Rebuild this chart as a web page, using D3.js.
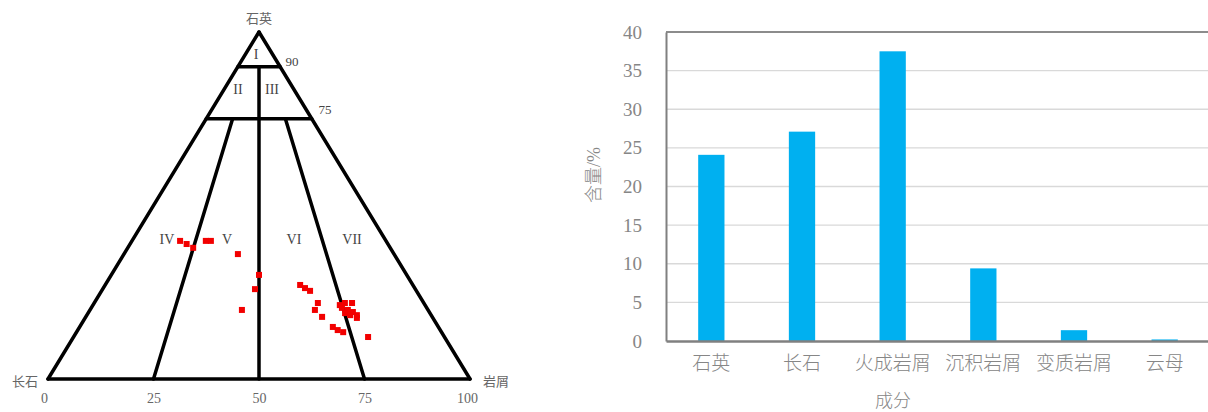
<!DOCTYPE html>
<html>
  <head>
    <meta charset="utf-8">
    <style>
      body { margin: 0; background: #fff; }
      text { font-family: "Liberation Serif", "Noto Sans CJK SC", serif; }
    </style>
  </head>
  <body>
    <script src="https://d3js.org/d3.v7.min.js"></script>
    <script>
      // ternary sample points (%): quartz, feldspar, lithic
      var quartz   = [39.8, 38.9, 37.8, 39.8, 39.8, 36.0, 30.0, 25.9, 19.9, 27.1, 26.2, 25.4, 21.9, 19.9, 17.9,
                      15.0, 14.1, 13.5, 21.3, 21.9, 21.9, 20.5, 19.9, 19.3, 18.4, 17.6, 19.0, 18.4, 12.1];
      var feldspar = [48.8, 47.7, 46.7, 42.7, 41.5, 37.0, 35.0, 38.0, 44.1, 26.7, 26.0, 25.2, 25.1, 26.8, 26.1,
                      25.0, 24.3, 23.3, 20.2, 18.7, 17.0, 20.1, 19.0, 18.1, 17.6, 18.0, 20.1, 19.2, 18.1];
      var lithic   = [11.4, 13.4, 15.5, 17.5, 18.7, 27.0, 35.0, 36.1, 36.0, 46.2, 47.8, 49.4, 53.0, 53.3, 56.0,
                      60.0, 61.6, 63.2, 58.5, 59.4, 61.1, 59.4, 61.1, 62.6, 64.0, 64.4, 60.9, 62.4, 69.8];
      var baseTicks = [0, 25, 50, 75, 100];
      var zoneLabels = ["I", "II", "III", "IV", "V", "VI", "VII"];

      // bar chart
      var categories = ["石英", "长石", "火成岩屑", "沉积岩屑", "变质岩屑", "云母"];
      var contents = [24.1, 27.1, 37.5, 9.4, 1.4, 0.2];
      var yTicks = [0, 5, 10, 15, 20, 25, 30, 35, 40];

      var svg = d3.select("body").append("svg")
        .attr("width", 1208).attr("height", 412);

      // ---------- ternary ----------
      var tx = d3.scaleLinear().domain([0, 100]).range([48, 470]);
      var ty = d3.scaleLinear().domain([0, 100]).range([379, 32]);
      // position from quartz and lithic share
      function px(q, l) { return tx(l + q / 2); }
      function py(q) { return ty(q); }

      var tri = svg.append("g");
      var lines = [
        [[0, 0], [100, 0]], [[0, 0], [0, 100]], [[0, 100], [100, 0]],   // outline, [q, l]
        [[90, 0], [90, 10]],
        [[75, 0], [75, 25]],
        [[90, 5], [0, 50]],
        [[75, 25 * 0.25], [0, 25]],
        [[75, 25 * 0.75], [0, 75]]
      ];
      lines.forEach(function(s) {
        tri.append("line")
          .attr("x1", px(s[0][0], s[0][1])).attr("y1", py(s[0][0]))
          .attr("x2", px(s[1][0], s[1][1])).attr("y2", py(s[1][0]))
          .attr("stroke", "#000").attr("stroke-width", 3.5)
          .attr("stroke-linecap", "round");
      });

      tri.selectAll("rect.pt").data(quartz).enter().append("rect")
        .attr("class", "pt")
        .attr("x", function(d, i) { return px(d, lithic[i]) - 3; })
        .attr("y", function(d) { return py(d) - 3; })
        .attr("width", 6).attr("height", 6)
        .attr("fill", "#f20000");

      var bax = d3.axisBottom(tx).tickValues(baseTicks).tickSize(0).tickPadding(12);
      var gb = tri.append("g").attr("transform", "translate(0,381)").call(bax);
      gb.select(".domain").remove();
      gb.selectAll("text").attr("font-family", "Liberation Serif").attr("font-size", 14).attr("fill", "#666");
      gb.selectAll(".tick").filter(function(d) { return d === 0; }).select("text").attr("dx", -4);
      gb.selectAll(".tick").filter(function(d) { return d === 100; }).select("text").attr("dx", -3);

      var zonePos = [[256, 59], [238, 94], [272, 94], [167, 244], [227, 244], [294, 244], [352, 244]];
      tri.selectAll("text.zone").data(zoneLabels).enter().append("text")
        .attr("class", "zone")
        .attr("x", function(d, i) { return zonePos[i][0]; })
        .attr("y", function(d, i) { return zonePos[i][1]; })
        .attr("text-anchor", "middle").attr("font-size", 14).attr("fill", "#444")
        .text(function(d) { return d; });

      tri.append("text").attr("x", 292).attr("y", 66).attr("text-anchor", "middle")
        .attr("font-size", 13).attr("fill", "#444").text("90");
      tri.append("text").attr("x", 325).attr("y", 114).attr("text-anchor", "middle")
        .attr("font-size", 13).attr("fill", "#444").text("75");
      tri.append("text").attr("x", 259).attr("y", 23).attr("text-anchor", "middle")
        .attr("font-family", "Noto Sans CJK SC").attr("font-size", 13).attr("fill", "#666").text("石英");
      tri.append("text").attr("x", 25).attr("y", 386).attr("text-anchor", "middle")
        .attr("font-family", "Noto Sans CJK SC").attr("font-size", 13).attr("fill", "#666").text("长石");
      tri.append("text").attr("x", 496).attr("y", 386).attr("text-anchor", "middle")
        .attr("font-family", "Noto Sans CJK SC").attr("font-size", 13).attr("fill", "#666").text("岩屑");

      // ---------- bar chart ----------
      var plotL = 666, plotR = 1210, plotT = 32, plotB = 341;
      var x = d3.scaleBand().domain(categories).range([plotL, plotR])
        .paddingInner(0.71).paddingOuter(0.355);
      var y = d3.scaleLinear().domain([0, 40]).range([plotB, plotT]);

      var bc = svg.append("g");
      bc.selectAll("line.grid").data(yTicks.slice(1)).enter().append("line")
        .attr("class", "grid")
        .attr("x1", plotL).attr("x2", plotR)
        .attr("y1", function(d) { return y(d); }).attr("y2", function(d) { return y(d); })
        .attr("stroke", function(d) { return d === 40 ? "#8c8c8c" : "#d9d9d9"; })
        .attr("stroke-width", function(d) { return d === 40 ? 2 : 1.3; });

      bc.selectAll("rect.bar").data(contents).enter().append("rect")
        .attr("class", "bar")
        .attr("x", function(d, i) { return x(categories[i]); })
        .attr("y", function(d) { return y(d); })
        .attr("width", x.bandwidth())
        .attr("height", function(d) { return plotB - y(d); })
        .attr("fill", "#00b0f0");

      var yAxis = d3.axisLeft(y).tickValues(yTicks).tickSize(0).tickPadding(24);
      var gy = bc.append("g").attr("transform", "translate(" + plotL + ",0)").call(yAxis);
      gy.select(".domain").attr("stroke", "#808080").attr("stroke-width", 2);
      gy.selectAll("text").attr("font-family", "Liberation Serif").attr("font-size", 19).attr("fill", "#868686");

      var xAxis = d3.axisBottom(x).tickSize(0).tickPadding(16);
      var gx = bc.append("g").attr("transform", "translate(0," + plotB + ")").call(xAxis);
      gx.select(".domain").attr("stroke", "#808080").attr("stroke-width", 2.5);
      gx.selectAll("text").attr("font-family", "Noto Sans CJK SC").attr("font-size", 19)
        .attr("font-weight", 300).attr("fill", "#868686");

      bc.append("text").attr("x", 893).attr("y", 407).attr("text-anchor", "middle")
        .attr("font-family", "Noto Sans CJK SC").attr("font-size", 18).attr("font-weight", 300)
        .attr("fill", "#868686").text("成分");
      bc.append("text").attr("transform", "translate(600,175) rotate(-90)").attr("text-anchor", "middle")
        .attr("font-family", "Noto Sans CJK SC").attr("font-size", 18).attr("font-weight", 300)
        .attr("fill", "#868686").text("含量/%");
    </script>
  </body>
</html>
